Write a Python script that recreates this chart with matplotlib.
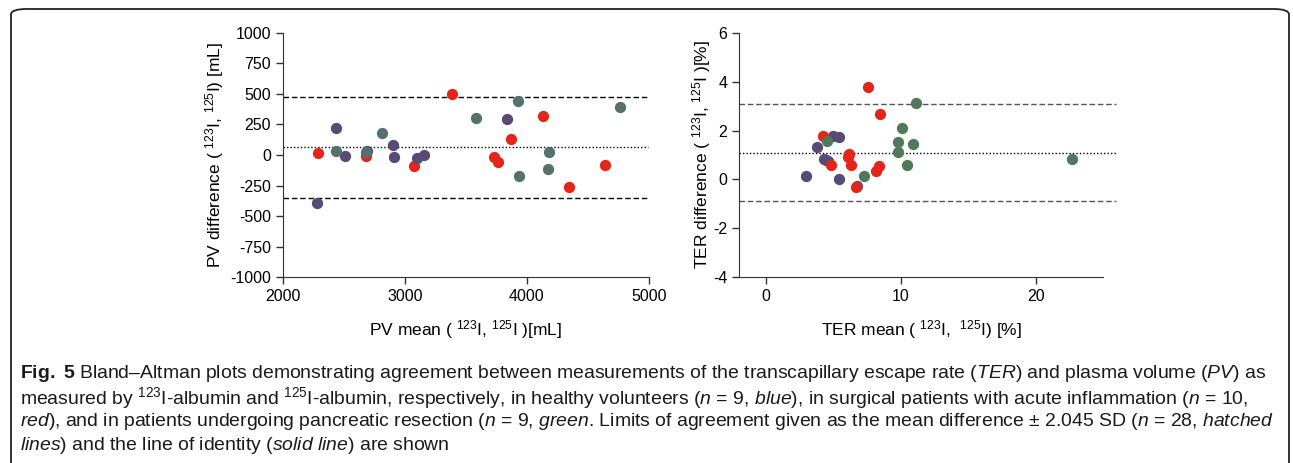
import numpy as np
from matplotlib import pyplot as plt
from matplotlib.patches import FancyBboxPatch

plt.rcParams["font.family"] = ["Liberation Sans", "DejaVu Sans"]
plt.rcParams["mathtext.fontset"] = "custom"
plt.rcParams["mathtext.rm"] = "Liberation Sans"
plt.rcParams["mathtext.it"] = "Liberation Sans:italic"
plt.rcParams["mathtext.bf"] = "Liberation Sans:bold"
plt.rcParams["axes.unicode_minus"] = False

#PV data (mean, difference) per group
pv_blue_x = [2437, 2510, 2281, 2904, 2912, 3097, 3160, 3837, 2690]
pv_blue_y = [218, -5, -390, 82, -16, -27, 3, 292, 30]
pv_red_x = [2292, 2680, 3078, 3389, 3731, 3766, 3870, 4129, 4348, 4637]
pv_red_y = [14, -5, -87, 496, -14, -55, 131, 319, -259, -84]
pv_green_x = [2434, 2685, 2811, 3581, 3927, 3938, 4178, 4176, 4763]
pv_green_y = [33, 27, 177, 302, 439, -169, 22, -112, 392]
pv_mean_diff = 63
pv_upper = 474
pv_lower = -354

#TER data (mean, difference) per group
ter_blue_x = [2.94, 3.75, 4.32, 4.6, 4.94, 5.41, 5.43, 6.77, 4.45]
ter_blue_y = [0.125, 1.32, 0.82, 0.74, 1.79, 1.73, 0.02, -0.26, 0.8]
ter_red_x = [7.53, 8.42, 4.2, 6.15, 6.1, 6.27, 4.79, 8.35, 8.12, 6.64]
ter_red_y = [3.76, 2.68, 1.79, 1.05, 0.91, 0.6, 0.61, 0.56, 0.33, -0.31]
ter_green_x = [4.49, 7.26, 9.75, 9.8, 10.05, 11.09, 10.91, 10.44, 22.72]
ter_green_y = [1.56, 0.14, 1.52, 1.12, 2.1, 3.11, 1.43, 0.61, 0.84]
ter_mean_diff = 1.09
ter_upper = 3.08
ter_lower = -0.89

caption = [
    r"$\mathbf{Fig.\ 5}$ Bland–Altman plots demonstrating agreement between measurements of the transcapillary escape rate ($\mathit{TER}$) and plasma volume ($\mathit{PV}$) as",
    r"measured by $^{123}$I-albumin and $^{125}$I-albumin, respectively, in healthy volunteers ($\mathit{n}$ = 9, $\mathit{blue}$), in surgical patients with acute inflammation ($\mathit{n}$ = 10,",
    r"$\mathit{red}$), and in patients undergoing pancreatic resection ($\mathit{n}$ = 9, $\mathit{green}$. Limits of agreement given as the mean difference ± 2.045 SD ($\mathit{n}$ = 28, $\mathit{hatched}$",
    r"$\mathit{lines}$) and the line of identity ($\mathit{solid\ line}$) are shown",
]

col_blue = "#584a75"
col_red = "#e3261c"
col_green_pv = "#56706f"
col_green_ter = "#4f7a5a"
ms = 66

fig = plt.figure(figsize=(12.93, 4.63), dpi=100)

#Frame around figure and caption
box = FancyBboxPatch((11/1293, -0.2), 1278/1293, 1 - 9/463 + 0.2, boxstyle="round,pad=0,rounding_size=0.012",
                     transform=fig.transFigure, fill=False, lw=1.3, ec="#222222")
fig.patches.append(box)

ax1 = fig.add_axes([282.7/1293, 1-277.3/463, (649-282.7)/1293, (277.3-32.7)/463])
ax2 = fig.add_axes([739.3/1293, 1-277.3/463, (1103-739.3)/1293, (277.3-32.7)/463])

ax1.scatter(pv_red_x, pv_red_y, s=ms, color=col_red, lw=0, zorder=3)
ax1.scatter(pv_blue_x, pv_blue_y, s=ms, color=col_blue, lw=0, zorder=3)
ax1.scatter(pv_green_x, pv_green_y, s=ms, color=col_green_pv, lw=0, zorder=3)
ax1.plot([2000, 4990], [pv_upper, pv_upper], ls=(0, (4, 2)), color="k", lw=1)
ax1.plot([2000, 4990], [pv_lower, pv_lower], ls=(0, (4, 2)), color="k", lw=1)
ax1.plot([2000, 4990], [pv_mean_diff, pv_mean_diff], ls=(0, (1, 1.5)), color="k", lw=1)
ax1.set_xlim(2000, 5000)
ax1.set_ylim(-1000, 1000)
ax1.set_xticks([2000, 3000, 4000, 5000])
ax1.set_yticks(np.arange(-1000, 1001, 250))
ax1.set_xlabel(r"PV mean ( $^{123}$I, $^{125}$I )[mL]", fontsize=12.5, labelpad=10)
ax1.set_ylabel(r"PV difference ( $^{123}$I, $^{125}$I) [mL]", fontsize=12.5, labelpad=3)

ax2.scatter(ter_blue_x, ter_blue_y, s=ms, color=col_blue, lw=0, zorder=3)
ax2.scatter(ter_red_x, ter_red_y, s=ms, color=col_red, lw=0, zorder=3)
ax2.scatter(ter_green_x, ter_green_y, s=ms, color=col_green_ter, lw=0, zorder=3)
ax2.plot([-2, 26], [ter_upper, ter_upper], ls=(0, (4, 2)), color="#555555", lw=1, clip_on=False)
ax2.plot([-2, 26], [ter_lower, ter_lower], ls=(0, (4, 2)), color="#555555", lw=1, clip_on=False)
ax2.plot([-2, 26], [ter_mean_diff, ter_mean_diff], ls=(0, (1, 1.5)), color="k", lw=1, clip_on=False)
ax2.set_xlim(-2, 25)
ax2.set_ylim(-4, 6)
ax2.set_xticks([0, 10, 20])
ax2.set_yticks([-4, -2, 0, 2, 4, 6])
ax2.set_xlabel(r"TER mean ( $^{123}$I,  $^{125}$I) [%]", fontsize=12.5, labelpad=10)
ax2.set_ylabel(r"TER difference ( $^{123}$I, $^{125}$I )[%]", fontsize=12.5, labelpad=0)

for ax in [ax1, ax2]:
    ax.spines['right'].set_visible(False)
    ax.spines['top'].set_visible(False)
    ax.spines['left'].set_color("#333333")
    ax.spines['bottom'].set_color("#333333")
    ax.tick_params(labelsize=11.5, length=5, color="#333333", width=1)

#Caption, sized so the first line spans the box width
y0 = 1 - 374/463
dy = 24/463
texts = []
for i, line in enumerate(caption):
    texts.append(fig.text(20/1293, y0 - i*dy, line, fontsize=11, va="center", color="#1a1a1a"))
fig.canvas.draw()
w = texts[0].get_window_extent().width
fs = 11 * 1248 / w
for t in texts:
    t.set_fontsize(fs)

plt.savefig("out.png", dpi=100)
